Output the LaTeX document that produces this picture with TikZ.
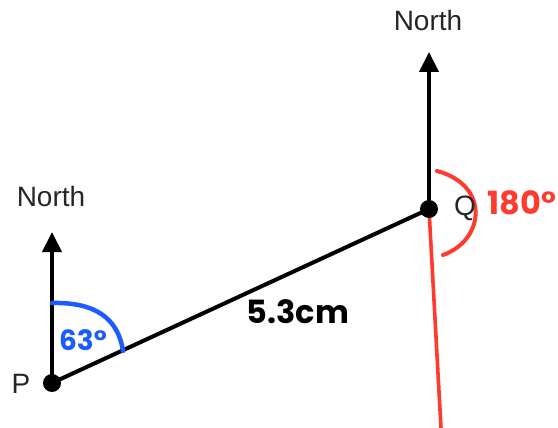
\documentclass[tikz,border=0pt]{standalone}
\usepackage{fontspec}
\setmainfont{Liberation Sans}
\newfontfamily\handfont{Poppins}
\usetikzlibrary{arrows.meta}
\definecolor{angred}{HTML}{FF3B30}
\definecolor{angblue}{HTML}{1A5CFF}
\begin{document}
\begin{tikzpicture}[x=1pt,y=-1pt,
  line/.style={line width=4pt,black},
  northarrow/.style={line width=4pt,black,-{Triangle[length=20pt,width=19pt]}},
  dot/.style={circle,fill=black,inner sep=0pt,minimum size=18pt},
  lbl/.style={font=\fontsize{28}{32}\selectfont,text=black!85},
  hand/.style={font=\handfont\bfseries\fontsize{32}{36}\selectfont}]
\useasboundingbox (0,0) rectangle (558,428);
\coordinate (P) at (52,383);
\coordinate (Q) at (429,209);
\coordinate (PN) at (52,232);
\coordinate (QN) at (429,52);
\coordinate (R) at (441,428);
% red bearing line
\draw[angred,line width=3.6pt] (Q) -- (R);
% north arrows
\draw[northarrow] (P) -- (PN);
\draw[northarrow] (Q) -- (QN);
% main line
\draw[line] (P) -- (Q);
% angle arcs
\draw[angblue,line width=4.5pt,line cap=round] (52,303) .. controls (95,302) and (118,318) .. (123,351);
\draw[angred,line width=4pt,line cap=round] (437,171) .. controls (490,185) and (485,240) .. (443,255);
% dots
\node[dot] (p) at (P) {};
\node[dot] (q) at (Q) {};
% labels
\node[lbl] (northP) at (51,196) {North};
\node[lbl] (northQ) at (428,20) {North};
\node[lbl] (labP) at (21,384) {P};
\node[lbl] (labQ) at (465,208) {Q};
\node[hand,text=angred] (a180) at (522,203) {180°};
\node[hand,text=angblue,font=\handfont\bfseries\fontsize{28}{32}\selectfont] (a63) at (83,340) {63°};
\node[hand] (dist) at (298,312) {5.3cm};
\end{tikzpicture}
\end{document}
